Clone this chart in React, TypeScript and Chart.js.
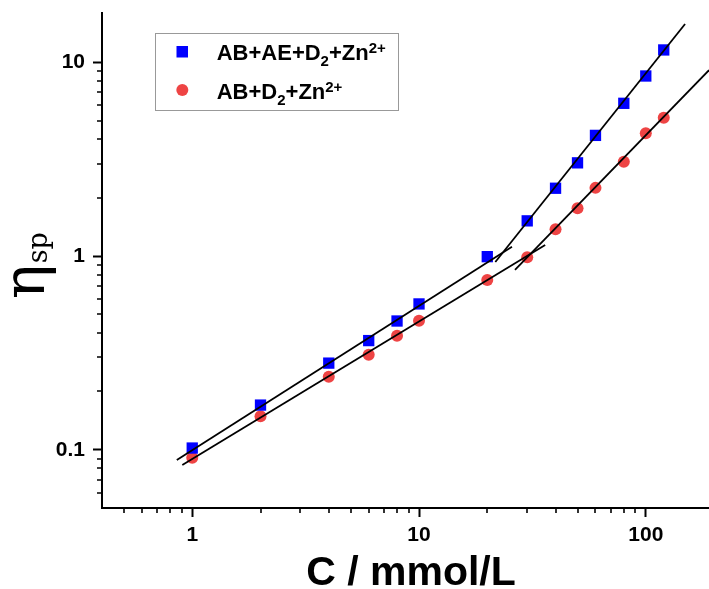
import React, { useEffect, useRef } from 'react';
import { Chart, registerables } from 'chart.js';

Chart.register(...registerables);

// ---- data ----
const concentrations = [1, 2, 4, 6, 8, 10, 20, 30, 40, 50, 60, 80, 100, 120];
const etaAbAeD2Zn = [0.102, 0.17, 0.28, 0.366, 0.462, 0.566, 0.993, 1.52, 2.24, 3.03, 4.2, 6.15, 8.51, 11.6];
const etaAbD2Zn = [0.091, 0.149, 0.238, 0.309, 0.388, 0.464, 0.753, 0.986, 1.375, 1.765, 2.25, 3.07, 4.31, 5.18];

// fitted straight lines (end points, log-log)
const fitBlueLowX = [0.855, 25.7];
const fitBlueLowY = [0.0885, 1.118];
const fitBlueHighX = [21.7, 149];
const fitBlueHighY = [0.932, 15.8];
const fitRedLowX = [0.904, 36.0];
const fitRedLowY = [0.0834, 1.14];
const fitRedHighX = [26.5, 190];
const fitRedHighY = [0.848, 9.13];

// axes
const xRange = [0.4, 190];
const yRange = [0.05, 18];
const xMajorTicks = [1, 10, 100];
const xMinorTicks = [0.5, 0.6, 0.7, 0.8, 0.9, 2, 3, 4, 5, 6, 7, 8, 9, 20, 30, 40, 50, 60, 70, 80, 90];
const yMajorTicks = [0.1, 1, 10];
const yMinorTicks = [0.06, 0.07, 0.08, 0.09, 0.2, 0.3, 0.4, 0.5, 0.6, 0.7, 0.8, 0.9, 2, 3, 4, 5, 6, 7, 8, 9];

const BLUE = '#0000ff';
const RED = '#ee4444';
const SANS = '"Liberation Sans", Arial, sans-serif';
const SERIF = '"DejaVu Serif", serif';

const pts = (xs: number[], ys: number[]) => xs.map((x, i) => ({ x, y: ys[i] }));

const decorPlugin = {
  id: 'decor',
  afterDraw(chart: any) {
    const ctx = chart.ctx as CanvasRenderingContext2D;
    const xs = chart.scales.x;
    const ys = chart.scales.y;
    const area = chart.chartArea;
    ctx.save();
    // minor ticks
    ctx.strokeStyle = '#000';
    ctx.lineWidth = 1.6;
    ctx.beginPath();
    xMinorTicks.forEach((v) => {
      const px = Math.round(xs.getPixelForValue(v));
      ctx.moveTo(px, area.bottom);
      ctx.lineTo(px, area.bottom + 5);
    });
    yMinorTicks.forEach((v) => {
      const py = Math.round(ys.getPixelForValue(v));
      ctx.moveTo(area.left, py);
      ctx.lineTo(area.left - 5, py);
    });
    ctx.stroke();

    // x title
    ctx.fillStyle = '#000';
    ctx.font = `bold 41px ${SANS}`;
    ctx.textAlign = 'center';
    ctx.textBaseline = 'alphabetic';
    ctx.fillText('C / mmol/L', 411, 585);

    // y title (rotated)
    ctx.save();
    ctx.translate(44, 299);
    ctx.rotate(-Math.PI / 2);
    ctx.textAlign = 'left';
    ctx.font = `58px ${SERIF}`;
    ctx.fillText('η', 0, 0);
    const w = ctx.measureText('η').width;
    ctx.font = `27px ${SERIF}`;
    ctx.fillText('sp', w + 1, 3);
    ctx.restore();

    // legend
    ctx.strokeStyle = '#999';
    ctx.lineWidth = 1;
    ctx.strokeRect(155.5, 33.5, 243, 77);
    ctx.fillStyle = BLUE;
    ctx.fillRect(176.5, 46, 11.5, 11.5);
    ctx.fillStyle = RED;
    ctx.beginPath();
    ctx.arc(182.3, 90, 6, 0, Math.PI * 2);
    ctx.fill();

    const drawParts = (parts: { t: string; s: number; dy: number }[], x0: number, base: number) => {
      let x = x0;
      ctx.fillStyle = '#000';
      ctx.textAlign = 'left';
      parts.forEach((p) => {
        ctx.font = `bold ${p.s}px ${SANS}`;
        ctx.fillText(p.t, x, base + p.dy);
        x += ctx.measureText(p.t).width;
      });
    };
    drawParts(
      [
        { t: 'AB+AE+D', s: 22, dy: 0 },
        { t: '2', s: 15, dy: 6 },
        { t: '+Zn', s: 22, dy: 0 },
        { t: '2+', s: 15, dy: -7 },
      ],
      216.7,
      60
    );
    drawParts(
      [
        { t: 'AB+D', s: 22, dy: 0 },
        { t: '2', s: 15, dy: 6 },
        { t: '+Zn', s: 22, dy: 0 },
        { t: '2+', s: 15, dy: -7 },
      ],
      216.7,
      98.5
    );
    ctx.restore();
  },
};

export default function App() {
  const ref = useRef<HTMLCanvasElement | null>(null);
  useEffect(() => {
    if (!ref.current) return;
    const lineDs = (xs: number[], ys: number[]) => ({
      type: 'line' as const,
      data: pts(xs, ys),
      borderColor: '#000',
      borderWidth: 1.8,
      pointRadius: 0,
      showLine: true,
      fill: false,
      order: 0,
    });
    const chart = new Chart(ref.current, {
      type: 'scatter',
      data: {
        datasets: [
          lineDs(fitBlueLowX, fitBlueLowY),
          lineDs(fitBlueHighX, fitBlueHighY),
          lineDs(fitRedLowX, fitRedLowY),
          lineDs(fitRedHighX, fitRedHighY),
          {
            label: 'AB+AE+D2+Zn2+',
            data: pts(concentrations, etaAbAeD2Zn),
            pointStyle: 'rect',
            pointRadius: 8,
            pointBackgroundColor: BLUE,
            pointBorderWidth: 0,
            borderColor: BLUE,
            backgroundColor: BLUE,
            order: 1,
          },
          {
            label: 'AB+D2+Zn2+',
            data: pts(concentrations, etaAbD2Zn),
            pointStyle: 'circle',
            pointRadius: 6,
            pointBackgroundColor: RED,
            pointBorderWidth: 0,
            borderColor: RED,
            backgroundColor: RED,
            order: 1,
          },
        ] as any,
      },
      options: {
        animation: false,
        responsive: false,
        devicePixelRatio: 1,
        layout: { autoPadding: false, padding: { top: 13, right: 0, left: 0, bottom: 0 } },
        plugins: { legend: { display: false }, tooltip: { enabled: false } },
        scales: {
          x: {
            type: 'logarithmic',
            min: xRange[0],
            max: xRange[1],
            position: 'bottom',
            afterBuildTicks: (s: any) => {
              s.ticks = xMajorTicks.map((v) => ({ value: v, major: true }));
            },
            afterFit: (s: any) => {
              s.height = 81;
              s.paddingLeft = 0;
              s.paddingRight = 0;
            },
            ticks: {
              autoSkip: false,
              maxRotation: 0,
              padding: 6,
              color: '#000',
              font: { family: SANS, size: 21, weight: 'bold' },
              callback: (v: any) => String(v),
            },
            grid: {
              display: true,
              drawOnChartArea: false,
              drawTicks: true,
              tickLength: 9,
              tickWidth: 2,
              tickColor: '#000',
              color: '#000',
            },
            border: { display: true, color: '#000', width: 2 },
          },
          y: {
            type: 'logarithmic',
            min: yRange[0],
            max: yRange[1],
            position: 'left',
            afterBuildTicks: (s: any) => {
              s.ticks = yMajorTicks.map((v) => ({ value: v, major: true }));
            },
            afterFit: (s: any) => {
              s.width = 102;
              s.paddingTop = 0;
              s.paddingBottom = 0;
            },
            ticks: {
              autoSkip: false,
              padding: 8,
              color: '#000',
              font: { family: SANS, size: 21, weight: 'bold' },
              callback: (v: any) => String(v),
            },
            grid: {
              display: true,
              drawOnChartArea: false,
              drawTicks: true,
              tickLength: 9,
              tickWidth: 2,
              tickColor: '#000',
              color: '#000',
            },
            border: { display: true, color: '#000', width: 2 },
          },
        },
      },
      plugins: [decorPlugin],
    });
    return () => chart.destroy();
  }, []);
  return (
    <div style={{ position: 'fixed', left: 0, top: 0, width: 709, height: 589, background: '#fff' }}>
      <canvas ref={ref} width={709} height={589} style={{ width: 709, height: 589, display: 'block' }} />
    </div>
  );
}
